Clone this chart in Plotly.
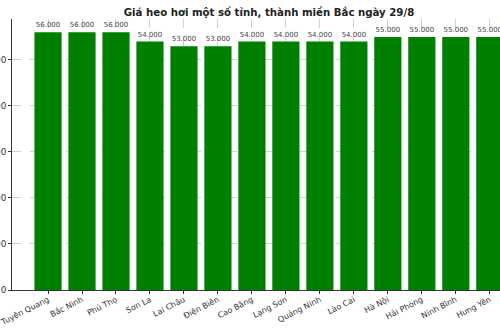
import plotly.graph_objects as go

provinces = ["Tuyên Quang", "Bắc Ninh", "Phú Thọ", "Sơn La", "Lai Châu", "Điện Biên",
             "Cao Bằng", "Lạng Sơn", "Quảng Ninh", "Lào Cai", "Hà Nội", "Hải Phòng",
             "Ninh Bình", "Hưng Yên"]
prices = [56000, 56000, 56000, 54000, 53000, 53000, 54000, 54000, 54000, 54000,
          55000, 55000, 55000, 55000]
price_labels = [f"{v:,}".replace(",", ".") for v in prices]
y_ticks = [0, 10000, 20000, 30000, 40000, 50000]

fig = go.Figure(go.Bar(
    x=provinces, y=prices,
    marker=dict(color="#008000", line=dict(width=0)),
    text=price_labels, textposition="outside", cliponaxis=False,
    textfont=dict(family="DejaVu Sans", size=7, color="#444444"),
))

fig.update_layout(
    template="none",
    width=500, height=333,
    margin=dict(l=12, r=0, t=19, b=43, autoexpand=False),
    paper_bgcolor="white", plot_bgcolor="white",
    bargap=0.2,
    showlegend=False,
    title=dict(text="<b>Giá heo hơi một số tỉnh, thành miền Bắc ngày 29/8</b>",
               x=0.538, xref="container", xanchor="center",
               y=0.962, yref="container", yanchor="middle",
               font=dict(family="DejaVu Sans", size=10.2, color="#222222")),
    xaxis=dict(range=[-1.06, 13.3], tickangle=-27, automargin=False,
               tickfont=dict(family="DejaVu Sans", size=8, color="#333333"),
               ticklabelstandoff=-2,
               showgrid=True, gridcolor="#d0d0d0", gridwidth=0.8, griddash="dash",
               showline=True, linecolor="#333333", linewidth=1,
               ticks="outside", ticklen=3, tickcolor="#333333",
               layer="above traces", zeroline=False),
    yaxis=dict(range=[0, 58900], tickvals=y_ticks, tickformat="d", automargin=False,
               tickfont=dict(family="DejaVu Sans", size=8.8, color="#333333"),
               showgrid=True, gridcolor="#d0d0d0", gridwidth=0.8, griddash="dash",
               showline=True, linecolor="#333333", linewidth=1,
               ticks="outside", ticklen=3, tickcolor="#333333",
               layer="above traces", zeroline=False),
)

fig.write_html("out.html")
